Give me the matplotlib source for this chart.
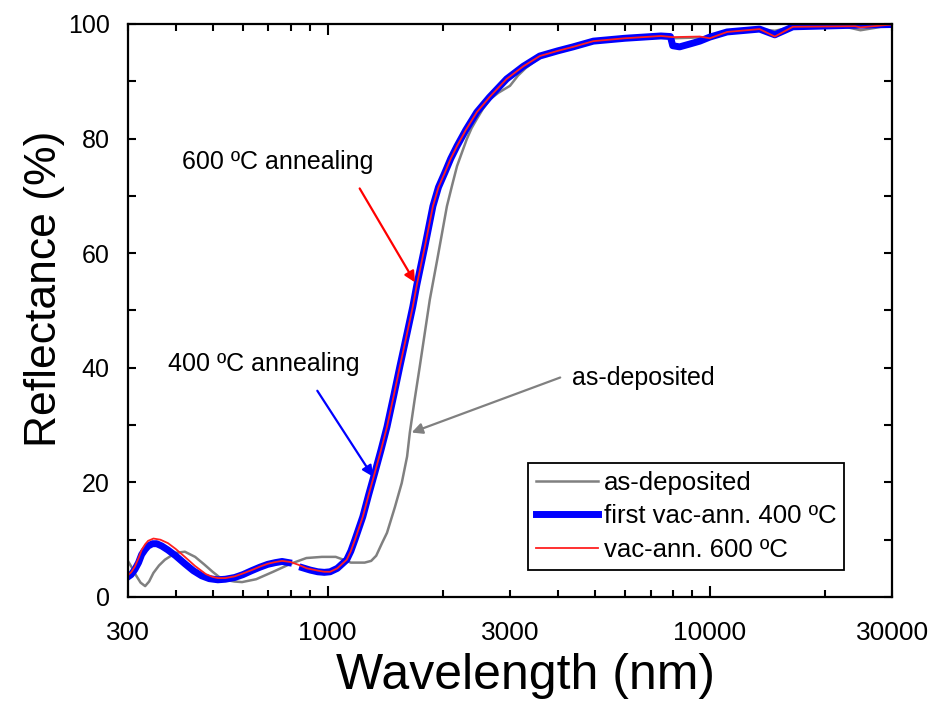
"""Reflectance spectra: as-deposited vs vacuum-annealed films."""

import numpy as np
import matplotlib
matplotlib.use("Agg")
import matplotlib.pyplot as plt
from matplotlib.ticker import LogLocator, FuncFormatter, MultipleLocator

plt.rcParams["font.family"] = ["Liberation Sans", "DejaVu Sans"]

# as-deposited
wl_dep = [300, 307, 315, 324, 333, 341, 350, 362, 375, 400, 423, 450, 475, 500,
          520, 540, 570, 597, 650, 720, 800, 880, 966, 1050, 1100, 1150, 1250,
          1300, 1340, 1390, 1430, 1500, 1563, 1614, 1641, 1689, 1742, 1797, 1851,
          1936, 2052, 2120, 2181, 2250, 2313, 2380, 2457, 2550, 2664, 2800, 3000,
          3150, 3300, 3600, 4400, 5000, 7450, 8000, 10000, 11100, 13500, 14800,
          16500, 22000, 24800, 27000, 30000]
r_dep = [6.3, 5.2, 3.8, 2.5, 1.9, 2.7, 4.2, 5.5, 6.5, 7.7, 7.9, 7.0, 5.7, 4.4,
         3.5, 3.0, 2.7, 2.6, 3.1, 4.4, 5.8, 6.8, 7.0, 7.0, 6.5, 6.0, 6.0,
         6.3, 7.2, 9.5, 11.2, 15.7, 19.9, 24.5, 28.7, 34.4, 40.2, 46.2, 51.9,
         58.9, 68.2, 72.0, 75.2, 77.7, 79.9, 81.8, 83.4, 85.2, 86.9, 88.0, 89.2,
         91.0, 92.3, 94.2, 95.8, 96.8, 97.8, 97.5, 97.7, 98.5, 99.1, 98.8,
         99.5, 99.7, 98.9, 99.3, 99.9]

# first vac-ann. 400 C (NaN marks the detector gap)
wl_400 = [300, 306, 313, 320, 326, 333, 339, 348, 357, 368, 382, 400, 423, 445,
          468, 490, 516, 540, 571, 600, 633, 665, 697, 730, 760, 790, 800, 860,
          900, 942, 980, 1015, 1060, 1122, 1150, 1179, 1236, 1280, 1329, 1380,
          1430, 1490, 1545, 1610, 1671, 1712, 1797, 1886, 1950, 2028, 2100, 2181,
          2300, 2457, 2650, 2941, 3250, 3591, 4000, 4390, 4960, 6000, 7450, 7890,
          8000, 8340, 8870, 9420, 10000, 11100, 13500, 14800, 16500, 24800, 30000]
r_400 = [3.5, 3.9, 4.8, 6.0, 7.4, 8.3, 8.9, 9.3, 9.3, 8.9, 8.2, 7.2, 5.8, 4.6,
         3.7, 3.2, 3.0, 3.1, 3.4, 3.9, 4.6, 5.2, 5.7, 6.0, 6.2, 6.0, np.nan, 5.1,
         4.7, 4.4, 4.3, 4.4, 5.0, 6.5, 8.0, 10.0, 14.0, 17.8, 21.7, 25.7,
         29.7, 35.2, 40.2, 45.7, 50.7, 54.5, 61.2, 68.2, 71.5, 74.1, 76.5, 78.7,
         81.5, 84.6, 87.2, 90.4, 92.6, 94.4, 95.3, 96.0, 97.0, 97.5, 97.9, 97.8,
         96.2, 96.0, 96.5, 97.0, 97.7, 98.6, 99.1, 98.1, 99.5, 99.8, 99.9]

# vac-ann. 600 C
wl_600 = [300, 306, 313, 320, 326, 333, 339, 350, 365, 382, 400, 423, 450, 480,
          500, 516, 540, 571, 600, 633, 665, 697, 730, 760, 800, 840, 882, 942,
          980, 1015, 1060, 1122, 1150, 1179, 1236, 1280, 1329, 1380, 1430, 1490,
          1545, 1610, 1671, 1712, 1797, 1886, 1950, 2028, 2100, 2181, 2300, 2457,
          2650, 2941, 3250, 3591, 4000, 4390, 4960, 6000, 7450, 8000, 9420,
          10000, 11100, 13500, 14800, 16500, 24000, 24800, 30000]
r_600 = [3.8, 4.3, 5.3, 6.8, 8.2, 9.2, 9.8, 10.2, 10.0, 9.4, 8.4, 7.0, 5.4, 4.0,
         3.5, 3.3, 3.3, 3.6, 4.1, 4.7, 5.3, 5.8, 6.1, 6.3, 6.1, 5.6, 5.0, 4.6,
         4.4, 4.4, 5.0, 6.5, 8.0, 10.0, 14.0, 17.8, 21.7, 25.7, 29.7, 35.2,
         40.2, 45.7, 50.7, 54.5, 61.2, 68.2, 71.5, 74.1, 76.5, 78.7, 81.5, 84.6,
         87.2, 90.4, 92.6, 94.4, 95.3, 96.0, 97.0, 97.5, 97.9, 97.7, 97.8,
         97.5, 98.6, 99.1, 97.8, 99.5, 99.6, 99.4, 99.9]

fig = plt.figure(figsize=(9.4, 7.04), dpi=100)
ax = fig.add_axes([0.136, 0.152, 0.813, 0.814])

ax.plot(wl_dep, r_dep, color="#808080", lw=1.8, label="as-deposited")
ax.plot(wl_400, r_400, color="#0000ff", lw=5.0, label="first vac-ann. 400 ºC")
ax.plot(wl_600, r_600, color="#ff2020", lw=1.3, label="vac-ann. 600 ºC")

ax.set_xscale("log")
ax.set_xlim(300, 30000)
ax.set_ylim(0, 100)

ax.xaxis.set_major_locator(LogLocator(base=10))
ax.xaxis.set_minor_locator(LogLocator(base=10, subs=np.arange(2, 10)))
ax.xaxis.set_major_formatter(FuncFormatter(lambda v, p: f"{v:.0f}"))
shown = {300, 3000, 30000}
ax.xaxis.set_minor_formatter(
    FuncFormatter(lambda v, p: f"{v:.0f}" if round(v) in shown else ""))
ax.yaxis.set_major_locator(MultipleLocator(20))
ax.yaxis.set_minor_locator(MultipleLocator(10))

ax.tick_params(which="both", direction="in", top=True, right=True, width=1.5)
ax.tick_params(axis="x", which="major", length=8, labelsize=19, pad=17)
ax.tick_params(axis="x", which="minor", length=5, labelsize=19, pad=17)
ax.tick_params(axis="y", which="major", length=6, labelsize=18, pad=13)
ax.tick_params(axis="y", which="minor", length=6)
for s in ax.spines.values():
    s.set_linewidth(1.6)

fig.text(526 / 940, 1 - 676 / 704, "Wavelength (nm)", fontsize=36,
         ha="center", va="center")
fig.text(45 / 940, 1 - 289 / 704, "Reflectance (%)", fontsize=32,
         ha="center", va="center", rotation=90)

ax.annotate("600 ºC annealing", xy=(1693, 54.9), xytext=(415, 75.9),
            fontsize=18, va="center", ha="left",
            arrowprops=dict(arrowstyle="-|>", color="#ff0000", lw=1.6,
                            mutation_scale=16, shrinkA=0, shrinkB=0,
                            relpos=(0.93, -0.6)))
ax.annotate("400 ºC annealing", xy=(1314, 21.0), xytext=(382, 40.6),
            fontsize=18, va="center", ha="left",
            arrowprops=dict(arrowstyle="-|>", color="#0000ff", lw=1.6,
                            mutation_scale=16, shrinkA=0, shrinkB=0,
                            relpos=(0.78, -0.6)))
ax.annotate("as-deposited", xy=(1659, 28.7), xytext=(4350, 38.3),
            fontsize=18, va="center", ha="left",
            arrowprops=dict(arrowstyle="-|>", color="#808080", lw=1.6,
                            mutation_scale=16, shrinkA=0, shrinkB=0,
                            relpos=(-0.08, 0.5)))

leg = ax.legend(loc="upper left", bbox_to_anchor=(0.524, 0.234), borderaxespad=0,
                fontsize=18.5, frameon=True, fancybox=False, framealpha=1,
                edgecolor="black", handlelength=2.4, handletextpad=0.25,
                labelspacing=0.38, borderpad=0.3)
leg.get_frame().set_linewidth(1.3)

fig.savefig("out.png", dpi=100)
